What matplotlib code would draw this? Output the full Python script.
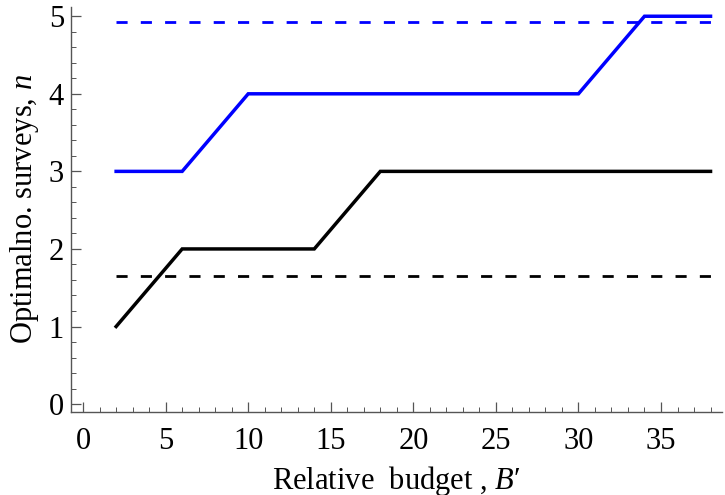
import matplotlib

matplotlib.use("Agg")

import matplotlib.pyplot as plt
from matplotlib.ticker import MultipleLocator

# Data
budget = [2, 6, 10, 30, 34, 38]
n_blue = [3, 3, 4, 4, 5, 5]
budget_black = [2, 6, 14, 18, 38]
n_black = [1, 2, 2, 3, 3]
dashed_x = [2, 38]
blue_limit = 4.93
black_limit = 1.65

plt.rcParams["font.family"] = "Liberation Serif"
plt.rcParams["mathtext.fontset"] = "custom"
plt.rcParams["mathtext.rm"] = "Liberation Serif"
plt.rcParams["mathtext.it"] = "Liberation Serif:italic"
plt.rcParams["lines.scale_dashes"] = False

fig = plt.figure(figsize=(7.25, 4.95), dpi=100)
ax = fig.add_axes([0.098, 0.168, 0.898, 0.818])

ax.plot(budget, n_blue, color="#0000ff", linewidth=2.5, solid_joinstyle="miter")
ax.plot(budget_black, n_black, color="black", linewidth=2.5, solid_joinstyle="miter")
ax.plot(dashed_x, [blue_limit] * 2, color="#0000ff", linewidth=2.0, dashes=(8, 9.5))
ax.plot(dashed_x, [black_limit] * 2, color="black", linewidth=2.0, dashes=(8, 9.5))

ax.set_xlim(-0.73, 38.7)
ax.set_ylim(-0.1, 5.12)
ax.xaxis.set_major_locator(MultipleLocator(5))
ax.xaxis.set_minor_locator(MultipleLocator(1))
ax.yaxis.set_major_locator(MultipleLocator(1))
ax.yaxis.set_minor_locator(MultipleLocator(0.2))

for side in ("top", "right"):
    ax.spines[side].set_visible(False)
for side in ("left", "bottom"):
    ax.spines[side].set_color("#555555")
    ax.spines[side].set_linewidth(1.0)

ax.tick_params(which="major", direction="in", length=7, width=0.9, color="#555555",
               labelsize=22, pad=11)
ax.tick_params(which="minor", direction="in", length=3.5, width=0.7, color="#555555")
ax.tick_params(axis="y", pad=5)

ax.set_xlabel("Relative  budget , $B$\u2032", fontsize=22, labelpad=6)
ax.set_ylabel("Optimalno. surveys, $n$", fontsize=22, labelpad=6)

fig.savefig("out.png", dpi=100)
plt.close(fig)
